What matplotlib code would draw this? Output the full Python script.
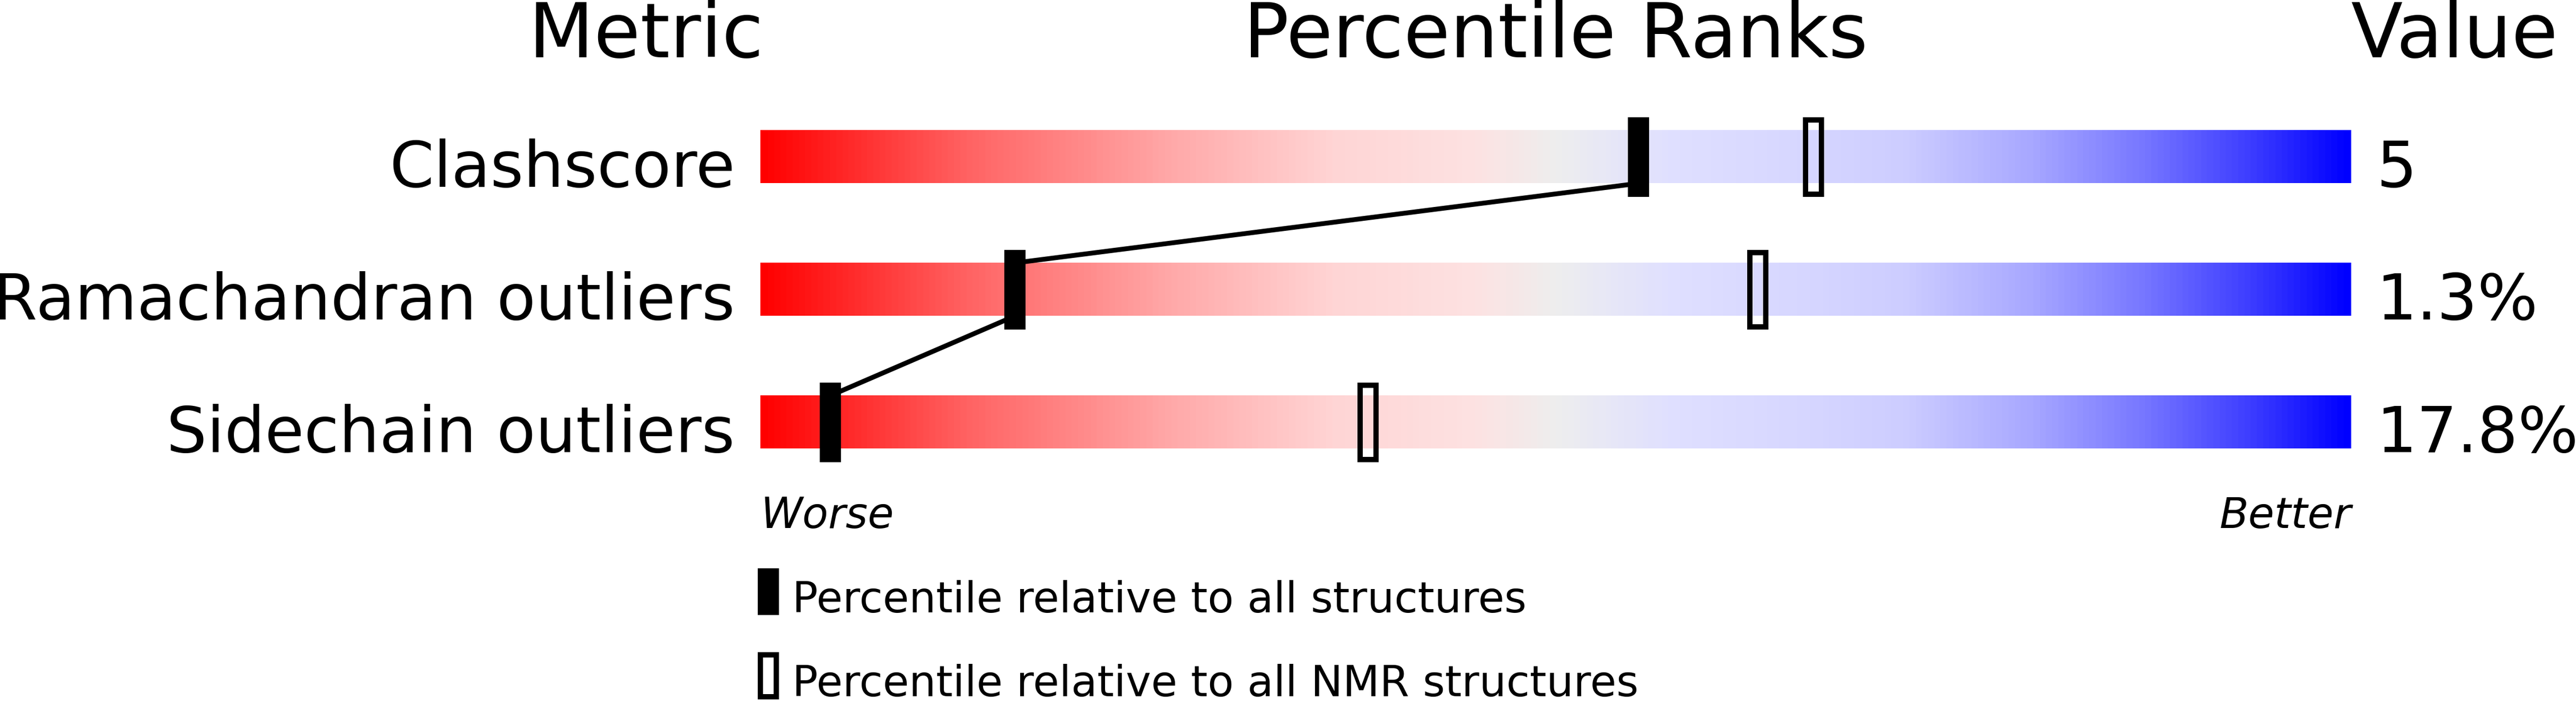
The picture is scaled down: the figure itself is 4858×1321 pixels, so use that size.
import matplotlib
matplotlib.use("Agg")
import matplotlib.pyplot as plt
import numpy as np
from matplotlib.colors import LinearSegmentedColormap
from matplotlib.patches import Rectangle

# ---------------------------------------------------------------------------
# Data
# ---------------------------------------------------------------------------
metrics = ["Clashscore", "Ramachandran outliers", "Sidechain outliers"]
values = ["5", "1.3%", "17.8%"]
pct_all = [55.2, 16.0, 4.4]      # percentile relative to all structures
pct_nmr = [66.2, 62.7, 38.2]     # percentile relative to NMR structures

header_labels = ["Metric", "Percentile Ranks", "Value"]
end_labels = ["Worse", "Better"]
legend_labels = ["Percentile relative to all structures",
                 "Percentile relative to all NMR structures"]

# ---------------------------------------------------------------------------
# Style
# ---------------------------------------------------------------------------
plt.rcParams["font.family"] = ["DejaVu Sans"]

grad_stops = [
    (0.00, "#ff0000"), (0.13, "#ff6464"), (0.26, "#ffaaaa"),
    (0.36, "#ffd5d5"), (0.45, "#fde2e2"), (0.50, "#eeeeee"),
    (0.57, "#e0e0ff"), (0.66, "#d6d6ff"), (0.72, "#cdcdff"),
    (0.80, "#a8a8ff"), (0.87, "#7878ff"), (0.94, "#3c3cff"),
    (1.00, "#0000ff"),
]
cmap = LinearSegmentedColormap.from_list("slider", grad_stops)

W, H, DPI = 4858, 1321, 100
fig = plt.figure(figsize=(W / DPI, H / DPI), dpi=DPI)
ax = fig.add_axes([0, 0, 1, 1])
# 0..100 percentile spans the slider; rows are 250 px apart
ax.set_xlim(-1434 / 30, (W - 1434) / 30)
ax.set_ylim((H - 295.5) / 250, -295.5 / 250)
ax.axis("off")

BAR_H = 0.4
MARK_H = 0.6
MARK_W = 4 / 3
EDGE = 10 * 72 / DPI   # 10 px outline

grad = np.linspace(0, 1, 600)[None, :]
for i, (name, val) in enumerate(zip(metrics, values)):
    ax.imshow(grad, cmap=cmap, aspect="auto", interpolation="bilinear",
              extent=[0, 100, i + BAR_H / 2, i - BAR_H / 2], zorder=1)
    ax.text(-1.6, i + 0.227, name, ha="right", va="baseline", fontsize=86.4)
    ax.text(101.6, i + 0.227, val, ha="left", va="baseline", fontsize=86.4)

# connecting line between "all structures" markers
lx, ly = [], []
for i, p in enumerate(pct_all):
    lx += [p, p]
    ly += [i - BAR_H / 2, i + BAR_H / 2]
ax.plot(lx[1:-1], ly[1:-1], color="black", lw=6.5, zorder=2,
        solid_capstyle="butt")

for i, (pa, pn) in enumerate(zip(pct_all, pct_nmr)):
    ax.add_patch(Rectangle((pa - MARK_W / 2, i - MARK_H / 2), MARK_W, MARK_H,
                           facecolor="black", edgecolor="none", zorder=3))
    ax.add_patch(Rectangle((pn - (MARK_W - 1 / 3) / 2, i - (MARK_H - 0.04) / 2),
                           MARK_W - 1 / 3, MARK_H - 0.04, fill=False,
                           edgecolor="black", lw=EDGE, joinstyle="miter",
                           zorder=3))

# headers
ax.text(0.2, -0.75, header_labels[0], ha="right", va="baseline", fontsize=102.5)
ax.text(50, -0.75, header_labels[1], ha="center", va="baseline", fontsize=102.5)
ax.text(100, -0.75, header_labels[2], ha="left", va="baseline", fontsize=102.5)

# worse / better
ax.text(0, 2.798, end_labels[0], ha="left", va="baseline", fontsize=57.5,
        style="italic")
ax.text(100, 2.798, end_labels[1], ha="right", va="baseline", fontsize=57.5,
        style="italic")

# legend
ax.add_patch(Rectangle((0.5 - MARK_W / 2, 3.102), MARK_W, 0.352,
                       facecolor="black", edgecolor="none"))
ax.add_patch(Rectangle((0.0, 3.754), 1.0, 0.316, fill=False,
                       edgecolor="black", lw=EDGE, joinstyle="miter"))
ax.text(2.0, 3.434, legend_labels[0], ha="left", va="baseline", fontsize=58)
ax.text(2.0, 4.066, legend_labels[1], ha="left", va="baseline", fontsize=58)

fig.savefig("out.png", dpi=DPI)
